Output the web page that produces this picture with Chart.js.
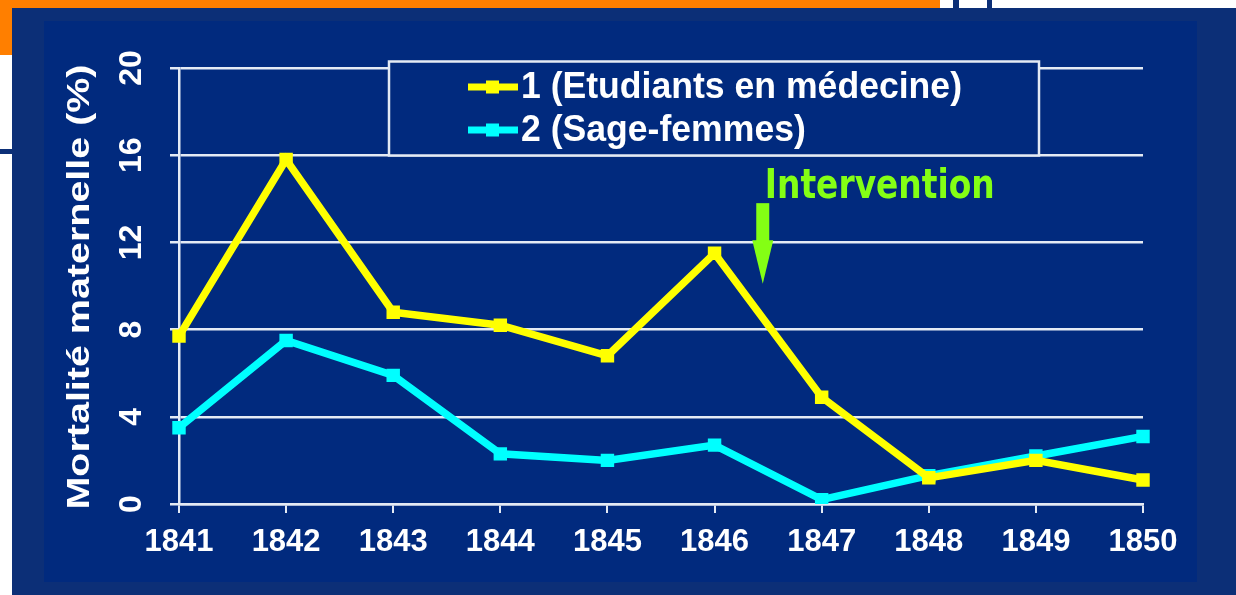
<!DOCTYPE html>
<html>
<head>
<meta charset="utf-8">
<script src="https://cdn.jsdelivr.net/npm/chart.js@4.4.0/dist/chart.umd.min.js"></script>
<style>
  html, body { margin: 0; padding: 0; background: #fff; width: 1236px; height: 595px; overflow: hidden; }
  body { position: relative; }
  .deco { position: absolute; }
  #c { position: absolute; left: 0; top: 0; }
</style>
</head>
<body>
<!-- slide decorations around the chart -->
<div class="deco" style="left:0;top:0;width:940px;height:8px;background:#ff7f00"></div>
<div class="deco" style="left:0;top:0;width:12px;height:55px;background:#ff7f00"></div>
<div class="deco" style="left:953px;top:0;width:6px;height:8px;background:#0c2f77"></div>
<div class="deco" style="left:987px;top:0;width:5px;height:8px;background:#0c2f77"></div>
<div class="deco" style="left:0;top:149px;width:12px;height:5px;background:#0c2f77"></div>
<div class="deco" style="left:12px;top:8px;width:1224px;height:587px;background:#0c2f77"></div>
<div class="deco" style="left:44px;top:21px;width:1153px;height:561px;background:#012a7e"></div>
<canvas id="c" width="1236" height="595"></canvas>

<script>
// data
const years = ['1841', '1842', '1843', '1844', '1845', '1846', '1847', '1848', '1849', '1850'];
const etudiants = [7.7, 15.8, 8.8, 8.2, 6.8, 11.5, 4.9, 1.2, 2.0, 1.1];
const sageFemmes = [3.5, 7.5, 5.9, 2.3, 2.0, 2.7, 0.2, 1.3, 2.2, 3.1];
const yTicks = [0, 4, 8, 12, 16, 20];
const seriesNames = ['1 (Etudiants en médecine)', '2 (Sage-femmes)'];
const yTitle = 'Mortalité maternelle (%)';
const interventionText = 'Intervention';

const YELLOW = '#ffff00';
const CYAN = '#00ffff';
const NAVY = '#012a7e';
const GRID = '#e4eaf4';
const FONT = "'Liberation Sans', Arial, sans-serif";

Chart.defaults.font.family = FONT;

// legend box, y axis title, intervention arrow
const slidePlugin = {
    id: 'slide',
    beforeDatasetsDraw(chart) {
        const ctx = chart.ctx;
        ctx.save();
        ctx.fillStyle = NAVY;
        ctx.fillRect(389, 61.5, 650, 94);
        ctx.strokeStyle = GRID;
        ctx.lineWidth = 2.5;
        ctx.strokeRect(389, 61.5, 650, 94);

        ctx.font = 'bold 34px ' + FONT;
        const w0 = ctx.measureText(chart.data.datasets[0].label).width;
        const sx = 441 / w0;
        chart.data.datasets.forEach(function (ds, i) {
            const ly = 87 + i * 43;
            ctx.strokeStyle = ds.borderColor;
            ctx.lineWidth = 7;
            ctx.beginPath();
            ctx.moveTo(468, ly);
            ctx.lineTo(518, ly);
            ctx.stroke();
            ctx.fillStyle = ds.borderColor;
            ctx.fillRect(486, ly - 6.5, 13, 13);

            ctx.save();
            ctx.translate(521, ly + 1);
            ctx.scale(sx, 1.08);
            ctx.fillStyle = '#ffffff';
            ctx.textAlign = 'left';
            ctx.textBaseline = 'middle';
            ctx.fillText(ds.label, 0, 0);
            ctx.restore();
        });
        ctx.restore();
    },
    afterDraw(chart) {
        const ctx = chart.ctx;
        const xs = chart.scales.x, ys = chart.scales.y;
        ctx.save();

        // y axis title, stretched along its length like on the slide
        ctx.font = 'bold 31px ' + FONT;
        const tw = ctx.measureText(yTitle).width;
        ctx.translate(80, 287);
        ctx.rotate(-Math.PI / 2);
        ctx.scale(445 / tw, 1);
        ctx.fillStyle = '#ffffff';
        ctx.textAlign = 'center';
        ctx.textBaseline = 'middle';
        ctx.fillText(yTitle, 0, 0);
        ctx.restore();

        // intervention arrow between 1846 and 1847
        const ax = xs.getPixelForValue(5.45);
        const yTop = ys.getPixelForValue(13.8);
        const yHead = ys.getPixelForValue(12.1);
        const yTip = ys.getPixelForValue(10.1);
        ctx.save();
        ctx.fillStyle = '#84ff14';
        ctx.fillRect(ax - 6.5, yTop, 13, yHead - yTop + 1);
        ctx.beginPath();
        ctx.moveTo(ax - 10.5, yHead);
        ctx.lineTo(ax + 10.5, yHead);
        ctx.lineTo(ax, yTip);
        ctx.closePath();
        ctx.fill();

        ctx.font = "bold 32px 'Comic Sans MS', 'DejaVu Sans', sans-serif";
        const iw = ctx.measureText(interventionText).width;
        ctx.translate(ax + 2, 198);
        ctx.scale(230 / iw, 1.25);
        ctx.textAlign = 'left';
        ctx.textBaseline = 'alphabetic';
        ctx.fillText(interventionText, 0, 0);
        ctx.restore();
    }
};

new Chart(document.getElementById('c').getContext('2d'), {
    type: 'line',
    data: {
        labels: years,
        datasets: [{
            label: seriesNames[0],
            data: etudiants,
            borderColor: YELLOW,
            backgroundColor: YELLOW,
            borderWidth: 7.5,
            pointStyle: 'rect',
            pointRadius: 9.5,
            pointBorderWidth: 0,
            pointBackgroundColor: YELLOW,
            tension: 0
        }, {
            label: seriesNames[1],
            data: sageFemmes,
            borderColor: CYAN,
            backgroundColor: CYAN,
            borderWidth: 7.5,
            pointStyle: 'rect',
            pointRadius: 9.5,
            pointBorderWidth: 0,
            pointBackgroundColor: CYAN,
            tension: 0
        }]
    },
    options: {
        responsive: false,
        animation: false,
        devicePixelRatio: 1,
        layout: { padding: { top: 68, right: 93, left: 0, bottom: 0 } },
        plugins: {
            legend: { display: false },
            tooltip: { enabled: false }
        },
        scales: {
            x: {
                offset: false,
                grid: { drawOnChartArea: false, color: GRID, lineWidth: 2, tickLength: 9 },
                border: { color: GRID, width: 2.5 },
                ticks: {
                    color: '#ffffff',
                    font: { size: 31, weight: 'bold' },
                    padding: 11,
                    maxRotation: 0,
                    autoSkip: false
                },
                afterFit(s) {
                    s.height = 91;
                    s.paddingLeft = 0;
                    s.paddingRight = 0;
                }
            },
            y: {
                min: 0,
                max: 20,
                afterBuildTicks(s) {
                    s.ticks = yTicks.map(v => ({ value: v }));
                },
                grid: { color: GRID, lineWidth: 2.5, tickLength: 9 },
                border: { color: GRID, width: 2.5 },
                ticks: {
                    color: '#ffffff',
                    font: { size: 32, weight: 'bold' },
                    padding: 20,
                    minRotation: 90,
                    maxRotation: 90,
                    crossAlign: 'center'
                },
                afterFit(s) {
                    s.width = 179;
                    s.paddingTop = 0;
                    s.paddingBottom = 0;
                }
            }
        }
    },
    plugins: [slidePlugin]
});
</script>
</body>
</html>
